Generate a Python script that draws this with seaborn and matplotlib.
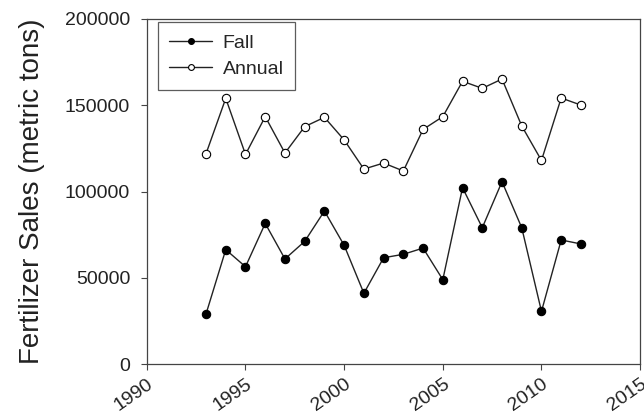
import matplotlib
matplotlib.use("Agg")
import matplotlib.pyplot as plt
import seaborn as sns
import pandas as pd

years = list(range(1993, 2013))
fall = [29000, 66300, 56400, 81500, 60900, 71100, 88700, 68800, 41000, 61600,
        63600, 67200, 48900, 102200, 79000, 105700, 79000, 30500, 71900, 69600]
annual = [121900, 154000, 121500, 143400, 122300, 137600, 143000, 129900, 113000, 116500,
          111900, 136000, 143400, 163900, 159800, 165200, 138000, 118000, 154200, 150100]
x_ticks = [1990, 1995, 2000, 2005, 2010, 2015]
y_ticks = [0, 50000, 100000, 150000, 200000]

sns.set_style("ticks")
plt.rcParams['font.family'] = ['Liberation Sans', 'DejaVu Sans']

df_fall = pd.DataFrame({"Year": years, "Sales": fall})
df_annual = pd.DataFrame({"Year": years, "Sales": annual})

fig = plt.figure(figsize=(6.44, 4.13), dpi=100)
ax = fig.add_axes([0.228, 0.1186, 0.766, 0.8354])

line_c = "#222222"
sns.lineplot(data=df_fall, x="Year", y="Sales", ax=ax, color=line_c, lw=1.0,
             marker="o", markersize=6, markerfacecolor="black",
             markeredgecolor="black", markeredgewidth=0.8, label="Fall")
sns.lineplot(data=df_annual, x="Year", y="Sales", ax=ax, color=line_c, lw=1.0,
             marker="o", markersize=6, markerfacecolor="white",
             markeredgecolor="black", markeredgewidth=0.8, label="Annual")

ax.set_xlim(1990, 2015)
ax.set_ylim(0, 200000)
ax.set_xticks(x_ticks)
ax.set_yticks(y_ticks)
ax.set_xticklabels([str(t) for t in x_ticks], rotation=35, ha="right",
                   rotation_mode="anchor", fontsize=14, color="#222222")
ax.set_yticklabels([str(t) for t in y_ticks], fontsize=14, color="#222222")
ax.set_xlabel("")
ax.set_ylabel("Fertilizer Sales (metric tons)", fontsize=20, color="#222222", labelpad=14)

for s in ax.spines.values():
    s.set_visible(True)
    s.set_color("#444444")
    s.set_linewidth(0.9)
ax.tick_params(direction="out", length=4, width=0.8, color="#444444")
ax.tick_params(axis="y", pad=8)
ax.tick_params(axis="x", pad=4)

leg = ax.legend(loc="upper left", fontsize=14, frameon=True, fancybox=False,
                edgecolor="#333333", borderpad=0.6, handlelength=2.2,
                handletextpad=0.55, labelspacing=0.45, markerscale=0.7,
                borderaxespad=0, bbox_to_anchor=(0.022, 0.99))
leg.get_frame().set_linewidth(0.9)

fig.savefig("out.png", dpi=100)
